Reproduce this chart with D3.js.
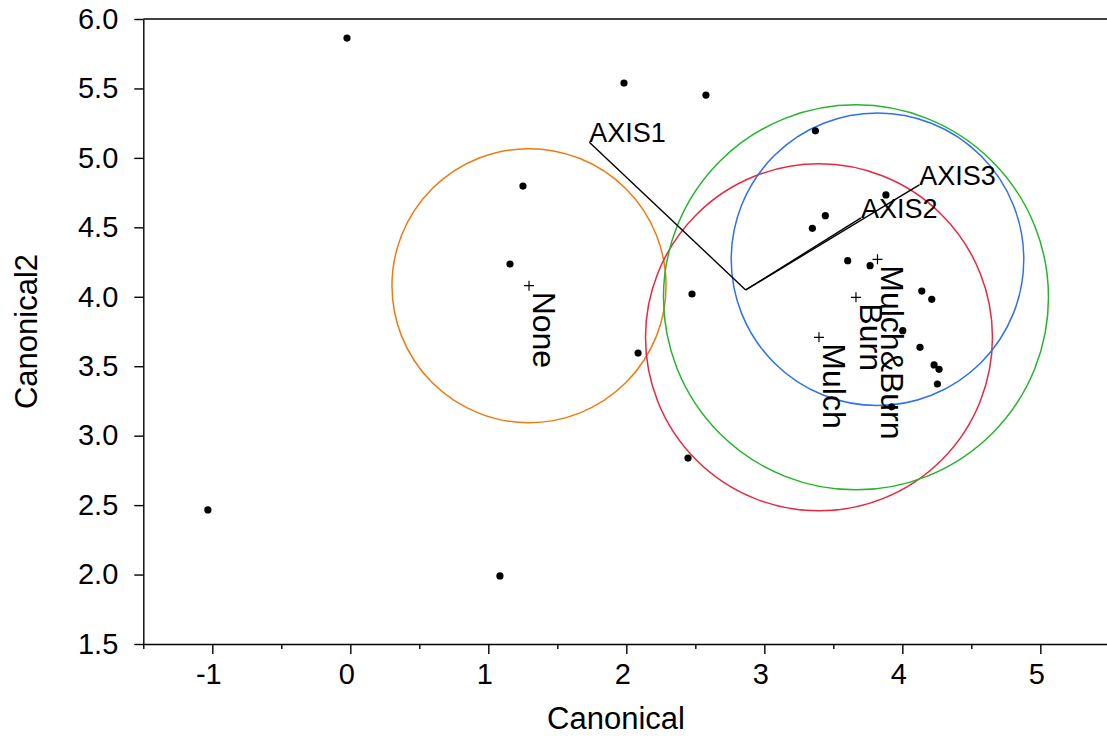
<!DOCTYPE html>
<html>
<head>
<meta charset="utf-8">
<script src="https://cdn.jsdelivr.net/npm/d3@7"></script>
<style>
  html, body { margin: 0; padding: 0; background: #fff; }
  svg { display: block; font-family: "Liberation Sans", Arial, sans-serif; }
</style>
</head>
<body>
<svg id="chart" width="1107" height="736"></svg>
<script>
// ---- data ----
const pointX = [-0.024, -1.032, 1.084, 1.983, 2.577, 1.251, 1.157, 2.085, 2.447,
                3.370, 3.881, 3.442, 3.348, 2.476,
                3.604, 3.766, 4.141, 4.213, 4.003, 4.128, 4.230, 4.266, 4.254, 3.923];
const pointY = [5.863, 2.465, 1.990, 5.539, 5.452, 4.797, 4.236, 3.595, 2.839,
                5.195, 4.733, 4.584, 4.493, 4.020,
                4.260, 4.224, 4.041, 3.982, 3.756, 3.636, 3.509, 3.478, 3.372, 3.208];

const groupNames = ["None", "Mulch", "Burn", "Mulch&Burn"];
const groupX = [1.295, 3.396, 3.664, 3.820];
const groupY = [4.080, 3.708, 3.996, 4.270];
const groupRadius = [0.993, 1.257, 1.395, 1.060];
const groupColors = ["#EE7A12", "#E8283E", "#26B42C", "#2F70EE"];

const rayNames = ["AXIS1", "AXIS2", "AXIS3"];
const rayOriginX = 2.865, rayOriginY = 4.049;
const rayEndX = [1.732, 3.700, 4.123];
const rayEndY = [5.112, 4.568, 4.805];

const xTicks = [-1, 0, 1, 2, 3, 4, 5];
const xTickLabels = ["-1", "0", "1", "2", "3", "4", "5"];
const xMinorTicks = [-1.5, -0.5, 0.5, 1.5, 2.5, 3.5, 4.5];
const yTicks = [1.5, 2.0, 2.5, 3.0, 3.5, 4.0, 4.5, 5.0, 5.5, 6.0];
const yTickLabels = ["1.5", "2.0", "2.5", "3.0", "3.5", "4.0", "4.5", "5.0", "5.5", "6.0"];
const xTitle = "Canonical";
const yTitle = "Canonical2";

// ---- layout ----
const svg = d3.select("#chart");
const mLeft = 143.3, mRight = 1107, mTop = 19, mBottom = 644;
const x = d3.scaleLinear().domain([-1.5, 5.483]).range([mLeft, mRight]);
const y = d3.scaleLinear().domain([1.5, 6.0]).range([mBottom, mTop]);
const rpx = r => x(r) - x(0);

// frame top line
svg.append("line").attr("x1", mLeft).attr("x2", mRight).attr("y1", mTop).attr("y2", mTop)
  .attr("stroke", "#000").attr("stroke-width", 1.6);

// x axis
const gx = svg.append("g").attr("transform", `translate(0,${mBottom})`)
  .call(d3.axisBottom(x).tickValues(xTicks).tickFormat((d, i) => xTickLabels[i])
    .tickSize(10).tickPadding(9).tickSizeOuter(0));
gx.selectAll(".tick text").attr("dx", -4);
svg.append("g").attr("transform", `translate(0,${mBottom})`)
  .call(d3.axisBottom(x).tickValues(xMinorTicks).tickFormat("").tickSize(5).tickSizeOuter(0))
  .select(".domain").remove();
// y axis
svg.append("g").attr("transform", `translate(${mLeft},0)`)
  .call(d3.axisLeft(y).tickValues(yTicks).tickFormat((d, i) => yTickLabels[i])
    .tickSize(9).tickPadding(16).tickSizeOuter(0));

svg.selectAll(".tick text").attr("font-size", 29).attr("fill", "#000")
  .attr("font-family", "'Liberation Sans', Arial, sans-serif");
svg.selectAll(".domain, .tick line").attr("stroke", "#000").attr("stroke-width", 1.4);

// axis titles
svg.append("text").attr("x", 616).attr("y", 729).attr("text-anchor", "middle")
  .attr("font-size", 31).text(xTitle);
svg.append("text").attr("transform", `translate(37,${(mTop + mBottom) / 2}) rotate(-90)`)
  .attr("text-anchor", "middle").attr("font-size", 31).text(yTitle);

// circles
const plot = svg.append("g");
plot.selectAll("circle.grp").data(groupNames).join("circle").attr("class", "grp")
  .attr("cx", (d, i) => x(groupX[i])).attr("cy", (d, i) => y(groupY[i]))
  .attr("r", (d, i) => rpx(groupRadius[i]))
  .attr("fill", "none").attr("stroke", (d, i) => groupColors[i]).attr("stroke-width", 1.5);

// rays
plot.selectAll("line.ray").data(rayNames).join("line").attr("class", "ray")
  .attr("x1", x(rayOriginX)).attr("y1", y(rayOriginY))
  .attr("x2", (d, i) => x(rayEndX[i])).attr("y2", (d, i) => y(rayEndY[i]))
  .attr("stroke", "#000").attr("stroke-width", 1.4);
plot.selectAll("text.ray").data(rayNames).join("text").attr("class", "ray")
  .attr("x", (d, i) => x(rayEndX[i])).attr("y", (d, i) => y(rayEndY[i]))
  .attr("font-size", 27).text(d => d);

// points
plot.selectAll("circle.pt").data(pointX).join("circle").attr("class", "pt")
  .attr("cx", d => x(d)).attr("cy", (d, i) => y(pointY[i])).attr("r", 3.6).attr("fill", "#000");

// centroid markers
plot.selectAll("path.cen").data(groupNames).join("path").attr("class", "cen")
  .attr("transform", (d, i) => `translate(${x(groupX[i])},${y(groupY[i])})`)
  .attr("d", "M-5,0H5M0,-5V5").attr("stroke", "#000").attr("stroke-width", 1.2).attr("fill", "none");

// group labels (rotated)
plot.selectAll("text.grp").data(groupNames).join("text").attr("class", "grp")
  .attr("transform", (d, i) => `translate(${x(groupX[i]) + 4},${y(groupY[i]) + 6}) rotate(90)`)
  .attr("font-size", 32).text(d => d);
</script>
</body>
</html>
